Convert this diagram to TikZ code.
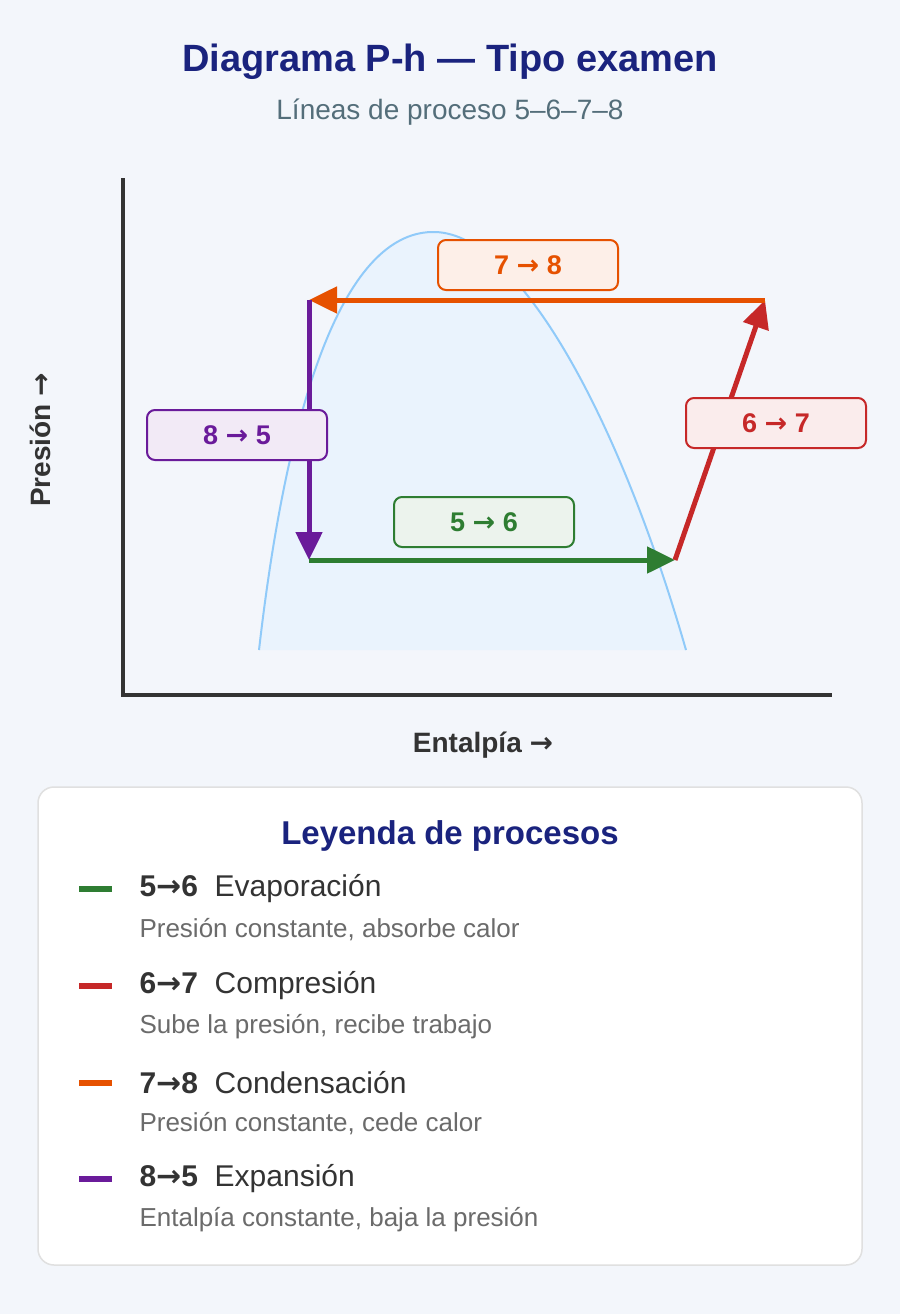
\documentclass[tikz,border=0pt]{standalone}
\usepackage{fontspec}
\setmainfont{Liberation Sans}
\newfontfamily\arrfont{DejaVu Sans}
\usetikzlibrary{arrows.meta}
\definecolor{bgpage}{HTML}{F3F6FB}
\definecolor{navy}{HTML}{1A237E}
\definecolor{subgray}{HTML}{546E7A}
\definecolor{domeblue}{HTML}{90CAF9}
\definecolor{domefill}{HTML}{EAF3FD}
\definecolor{cgreen}{HTML}{2E7D32}
\definecolor{cred}{HTML}{C62828}
\definecolor{corange}{HTML}{E65100}
\definecolor{cpurple}{HTML}{6A1B9A}
\definecolor{txtgray}{HTML}{6B6B6B}
\newcommand{\ar}{{\arrfont\char"2192}}
\newcommand{\fs}[1]{\fontsize{#1}{#1}\selectfont}
\tikzset{
  proc/.style={line width=5pt,-{Triangle[length=28pt,width=26pt]}},
  tag/.style={draw=#1,fill=#1!9,line width=2pt,rounded corners=8pt,minimum width=180pt,minimum height=50pt,text=#1,font=\fs{27}\bfseries},
  mark/.style={line width=6pt,#1},
  ltitle/.style={anchor=west,font=\fs{30},text=black!80},
  lsub/.style={anchor=west,font=\fs{26},text=txtgray}
}
\begin{document}
\begin{tikzpicture}[x=1pt,y=-1pt]
  \fill[bgpage] (0,0) rectangle (900,1314);
  \useasboundingbox (0,0) rectangle (900,1314);

  % titles
  \node (title) at (450,62) {\fs{38}\bfseries\color{navy}Diagrama P-h --- Tipo examen};
  \node (subtitle) at (450,112) {\fs{28}\color{subgray}Líneas de proceso 5--6--7--8};

  % dome
  \fill[domefill] (259,650) .. controls (290,380) and (350,230) .. (435,232)
    .. controls (520,234) and (620,420) .. (686,650) -- cycle;
  \draw[domeblue,line width=2pt] (259,650) .. controls (290,380) and (350,230) .. (435,232)
    .. controls (520,234) and (620,420) .. (686,650);

  % axes
  \draw[black!80,line width=3.5pt] (123,178) -- (123,695) -- (832,695);
  \node[rotate=90,font=\fs{28}\bfseries,text=black!80] (ylab) at (40,440) {Presión \ar};
  \node[font=\fs{28}\bfseries,text=black!80] (xlab) at (483,745) {Entalpía \ar};

  % states
  \coordinate (p5) at (309,560);
  \coordinate (p6) at (675,560);
  \coordinate (p7) at (765,300);
  \coordinate (p8) at (309,300);

  \draw[proc,cgreen] (p5) -- (p6);
  \draw[proc,cred] (p6) -- (p7);
  \draw[proc,corange] (p7) -- (p8);
  \draw[proc,cpurple] (p8) -- (p5);

  \node[tag=corange] (t78) at (528,265) {7 \ar\ 8};
  \node[tag=cpurple] (t85) at (237,435) {8 \ar\ 5};
  \node[tag=cgreen] (t56) at (484,522) {5 \ar\ 6};
  \node[tag=cred] (t67) at (776,423) {6 \ar\ 7};

  % legend
  \draw[black!12,fill=white,line width=1.5pt,rounded corners=16pt] (38,787) rectangle (862,1265);
  \node[font=\fs{33}\bfseries,text=navy] (legtitle) at (450,836) {Leyenda de procesos};

  \foreach \y/\col/\a/\b/\name/\desc in {
      889/cgreen/5/6/Evaporación/{Presión constante, absorbe calor},
      986/cred/6/7/Compresión/{Sube la presión, recibe trabajo},
      1083/corange/7/8/Condensación/{Presión constante, cede calor},
      1179/cpurple/8/5/Expansión/{Entalpía constante, baja la presión}}{
    \coordinate (ma\y) at (79,\y);
    \coordinate (mb\y) at (112,\y);
    \draw[mark=\col] (ma\y) -- (mb\y);
    \node[ltitle] (lt\y) at (136,\y) {\textbf{\a\ar\b}\ \ \name};
    \node[lsub] (ls\y) at (136,\y+41) {\desc};
  }
\end{tikzpicture}
\end{document}
